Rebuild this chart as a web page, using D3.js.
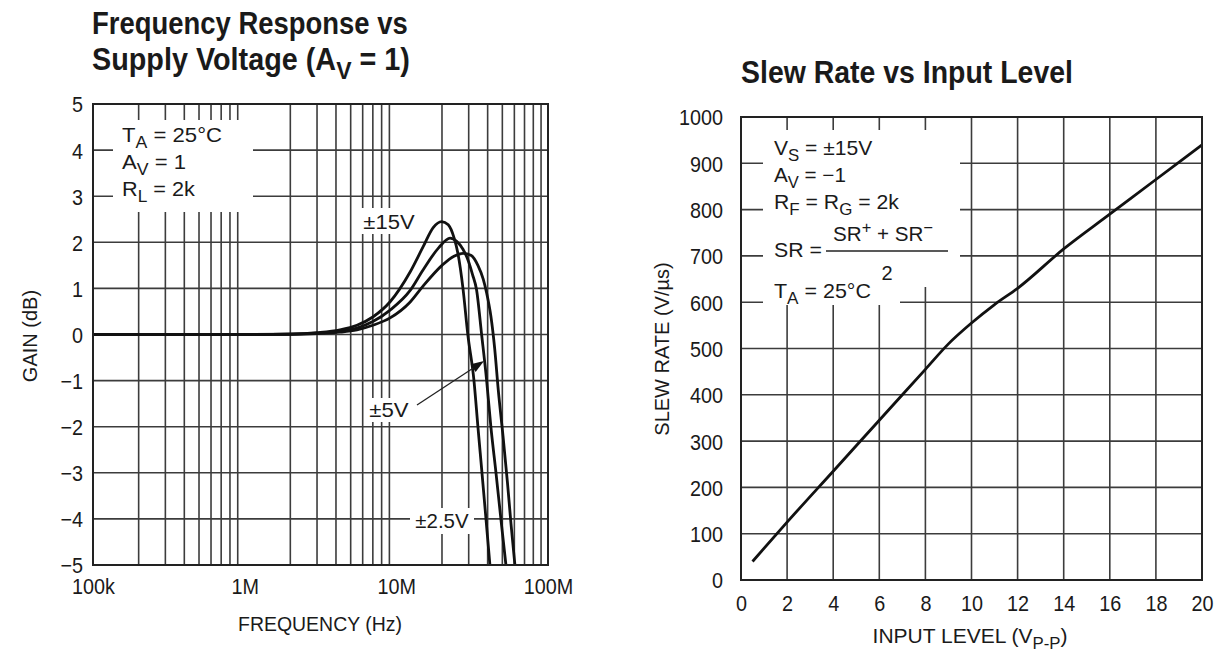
<!DOCTYPE html>
<html>
<head>
<meta charset="utf-8">
<script src="https://cdn.jsdelivr.net/npm/d3@7"></script>
<style>
  body { margin: 0; background: #fff; }
  svg { display: block; }
</style>
</head>
<body>
<svg id="chart" width="1219" height="652"></svg>
<script>
// ---------- Frequency response vs supply voltage (frequency in MHz, gain in dB) ----------
const gainTicks = [5, 4, 3, 2, 1, 0, -1, -2, -3, -4, -5];
const freqTickValues = [0.1, 1, 10, 100];
const freqTickLabels = ["100k", "1M", "10M", "100M"];
const supplyLabels = ["±15V", "±5V", "±2.5V"];

const resp15V = [[0.1,0],[1,0],[2,0.01],[3,0.04],[4.25,0.1],[5.5,0.2],[7,0.38],[9.1,0.71],[12.3,1.35],[15,1.9],[17.5,2.32],[19.9,2.45],[22,2.38],[24,2.1],[25.5,1.75],[27.5,1.0],[29.6,0],[32.5,-1],[34.5,-2],[36.7,-3],[39,-4],[41.4,-5]];
const resp5V  = [[0.1,0],[1,0],[2,0.01],[3,0.03],[4.25,0.07],[5.5,0.14],[7,0.28],[9.1,0.53],[12.3,0.95],[15,1.4],[19,1.88],[22.6,2.09],[25,2.02],[27.5,1.85],[29.8,1.6],[31.8,1.3],[33.8,0.97],[36.5,0],[39.4,-1],[42,-2],[45.4,-3],[48.9,-4],[52.8,-5]];
const resp2V5 = [[0.1,0],[1,0],[2,0.005],[3,0.02],[4.25,0.05],[5.5,0.1],[7,0.2],[9.1,0.36],[12.3,0.7],[15,1.05],[20,1.5],[24,1.7],[27.6,1.76],[31,1.72],[34.5,1.5],[37.4,1.2],[39.4,0.9],[42,0.4],[44.5,-0.3],[47,-1.2],[50.5,-2.2],[54,-3.2],[57,-4.1],[60.5,-5]];

// ---------- Slew rate vs input level (Vp-p, V/us) ----------
const levelTicks = [0, 2, 4, 6, 8, 10, 12, 14, 16, 18, 20];
const slewTicks = [0, 100, 200, 300, 400, 500, 600, 700, 800, 900, 1000];
const inputLevel = [0.5, 2, 4, 6, 8, 9, 10, 11, 12, 14, 16, 18, 20];
const slewRate   = [40, 125, 235, 345, 455, 510, 555, 595, 630, 715, 790, 865, 940];

const FONT = '"Liberation Sans", Arial, Helvetica, sans-serif';
const GRID = "#3c3c3c";
const INK = "#1a1a1a";
const svg = d3.select("#chart").attr("font-family", FONT).attr("fill", INK);

// Narrows text horizontally about its own x position
function squeeze(sel, s) {
  sel.each(function () {
    const x = +this.getAttribute("x") || 0;
    d3.select(this).attr("transform", `translate(${x},0) scale(${s},1) translate(${-x},0)`);
  });
}
// Scales a text horizontally so that it spans w pixels
function fit(t, w) {
  const bw = t.node().getBBox().width;
  if (bw > 0) squeeze(t, w / bw);
  return t;
}

// Writes a line of text made of plain, subscript and superscript runs
function richText(g, x, y, parts, size, anchor) {
  const t = g.append("text").attr("x", x).attr("y", y)
    .attr("font-size", size).attr("text-anchor", anchor || "start");
  let cur = 0;
  parts.forEach(p => {
    const target = p.sub ? size * 0.3 : p.sup ? -size * 0.38 : 0;
    const s = t.append("tspan").attr("dy", target - cur).text(p.t);
    if (p.sub || p.sup) s.attr("font-size", size * 0.8);
    cur = target;
  });
  return t;
}

// ================= Left chart =================
const L = { x0: 93, x1: 548, y0: 104, y1: 565 };
const fx = d3.scaleLog().domain([0.1, 100]).range([L.x0, L.x1]);
const gy = d3.scaleLinear().domain([-5, 5]).range([L.y1, L.y0]);
const left = svg.append("g");

const logGrid = [];
[0.1, 1, 10].forEach(d => { for (let k = 2; k <= 9; k++) logGrid.push(d * k); });

left.append("g").selectAll("line").data(logGrid).join("line")
  .attr("x1", d => fx(d)).attr("x2", d => fx(d))
  .attr("y1", L.y0).attr("y2", L.y1)
  .attr("stroke", GRID).attr("stroke-width", 1.6);
left.append("g").selectAll("line").data(gainTicks.slice(1, -1)).join("line")
  .attr("x1", L.x0).attr("x2", L.x1)
  .attr("y1", d => gy(d)).attr("y2", d => gy(d))
  .attr("stroke", GRID).attr("stroke-width", 1.6);

// clear areas behind in-plot notes
const leftClears = [[113, 120, 140, 92], [357, 208, 64, 26], [364, 398, 52, 24], [410, 508, 64, 26]];
left.append("g").selectAll("rect").data(leftClears).join("rect")
  .attr("x", d => d[0]).attr("y", d => d[1]).attr("width", d => d[2]).attr("height", d => d[3])
  .attr("fill", "#fff");

const respLine = d3.line().x(d => fx(d[0])).y(d => gy(d[1])).curve(d3.curveMonotoneX);
left.append("g").selectAll("path").data([resp15V, resp5V, resp2V5]).join("path")
  .attr("d", respLine).attr("fill", "none").attr("stroke", "#111")
  .attr("stroke-width", 2.8).attr("stroke-linejoin", "round");

left.append("rect").attr("x", L.x0).attr("y", L.y0)
  .attr("width", L.x1 - L.x0).attr("height", L.y1 - L.y0)
  .attr("fill", "none").attr("stroke", "#222").attr("stroke-width", 2);

// axis labels from d3 axes, with the domain path removed
const yAxisL = left.append("g").attr("transform", `translate(${L.x0},0)`)
  .call(d3.axisLeft(gy).tickValues(gainTicks).tickSize(0).tickPadding(10)
    .tickFormat(d => d < 0 ? "\u2212" + Math.abs(d) : d));
const xAxisL = left.append("g").attr("transform", `translate(0,${L.y1})`)
  .call(d3.axisBottom(fx).tickValues(freqTickValues).tickSize(0).tickPadding(9)
    .tickFormat((d, i) => freqTickLabels[i]));
[yAxisL, xAxisL].forEach(a => {
  a.select(".domain").remove();
  a.selectAll("text").attr("font-family", FONT).attr("font-size", 22).attr("fill", INK);
  squeeze(a.selectAll("text"), 0.9);
});
yAxisL.selectAll("text").attr("dy", "0.36em");
xAxisL.selectAll("text").attr("dy", "0.9em");

fit(left.append("text").attr("x", 320).attr("y", 631).attr("text-anchor", "middle")
  .attr("font-size", 20).text("FREQUENCY (Hz)"), 164);
left.append("text").attr("transform", "translate(37,336) rotate(-90)")
  .attr("text-anchor", "middle").attr("font-size", 20).text("GAIN (dB)");

// title
fit(left.append("text").attr("x", 92).attr("y", 34).attr("font-size", 31)
  .attr("font-weight", "bold").text("Frequency Response vs"), 316);
fit(richText(left, 92, 70, [{ t: "Supply Voltage (A" }, { t: "V", sub: true }, { t: " = 1)" }], 31)
  .attr("font-weight", "bold"), 318);

// conditions
const leftNotes = [
  [{ t: "T" }, { t: "A", sub: true }, { t: " = 25°C" }],
  [{ t: "A" }, { t: "V", sub: true }, { t: " = 1" }],
  [{ t: "R" }, { t: "L", sub: true }, { t: " = 2k" }]
];
const leftNoteWidths = [100, 64, 74];
leftNotes.forEach((p, i) => fit(richText(left, 122, 142 + i * 27, p, 20), leftNoteWidths[i]));

// curve labels
const curveLabelPos = [[389, 229, 52], [389, 417, 40], [442, 528, 54]];
curveLabelPos.forEach((p, i) =>
  fit(left.append("text").attr("x", p[0]).attr("y", p[1]).attr("text-anchor", "middle")
    .attr("font-size", 20).text(supplyLabels[i]), p[2]));

// leader arrow toward the ±5V curve
const ax0 = 417, ay0 = 405, ax1 = 484, ay1 = 361;
const ang = Math.atan2(ay1 - ay0, ax1 - ax0);
left.append("line").attr("x1", ax0).attr("y1", ay0)
  .attr("x2", ax1 - 10 * Math.cos(ang)).attr("y2", ay1 - 10 * Math.sin(ang))
  .attr("stroke", "#222").attr("stroke-width", 1.3);
const hl = 13, hw = 4.5;
const bx = ax1 - hl * Math.cos(ang), by = ay1 - hl * Math.sin(ang);
left.append("path")
  .attr("d", `M${ax1},${ay1}L${bx - hw * Math.sin(ang)},${by + hw * Math.cos(ang)}L${bx + hw * Math.sin(ang)},${by - hw * Math.cos(ang)}Z`)
  .attr("fill", "#111");

// ================= Right chart =================
const R = { x0: 741, x1: 1202, y0: 117, y1: 580 };
const lx = d3.scaleLinear().domain([0, 20]).range([R.x0, R.x1]);
const sy = d3.scaleLinear().domain([0, 1000]).range([R.y1, R.y0]);
const right = svg.append("g");

right.append("g").selectAll("line").data(levelTicks.slice(1, -1)).join("line")
  .attr("x1", d => lx(d)).attr("x2", d => lx(d)).attr("y1", R.y0).attr("y2", R.y1)
  .attr("stroke", GRID).attr("stroke-width", 1.6);
right.append("g").selectAll("line").data(slewTicks.slice(1, -1)).join("line")
  .attr("x1", R.x0).attr("x2", R.x1).attr("y1", d => sy(d)).attr("y2", d => sy(d))
  .attr("stroke", GRID).attr("stroke-width", 1.6);

const rightClears = [[763, 130, 197, 132], [763, 262, 137, 43], [900, 262, 48, 25]];
right.append("g").selectAll("rect").data(rightClears).join("rect")
  .attr("x", d => d[0]).attr("y", d => d[1]).attr("width", d => d[2]).attr("height", d => d[3])
  .attr("fill", "#fff");

const slewLine = d3.line().x((d, i) => lx(inputLevel[i])).y(d => sy(d)).curve(d3.curveMonotoneX);
right.append("path").datum(slewRate).attr("d", slewLine)
  .attr("fill", "none").attr("stroke", "#111").attr("stroke-width", 2.8).attr("stroke-linejoin", "round");

right.append("rect").attr("x", R.x0).attr("y", R.y0)
  .attr("width", R.x1 - R.x0).attr("height", R.y1 - R.y0)
  .attr("fill", "none").attr("stroke", "#222").attr("stroke-width", 2);

const yAxisR = right.append("g").attr("transform", `translate(${R.x0},0)`)
  .call(d3.axisLeft(sy).tickValues(slewTicks).tickSize(0).tickPadding(18).tickFormat(d3.format("d")));
const xAxisR = right.append("g").attr("transform", `translate(0,${R.y1})`)
  .call(d3.axisBottom(lx).tickValues(levelTicks).tickSize(0).tickPadding(16));
[yAxisR, xAxisR].forEach(a => {
  a.select(".domain").remove();
  a.selectAll("text").attr("font-family", FONT).attr("font-size", 22).attr("fill", INK);
  squeeze(a.selectAll("text"), 0.9);
});
yAxisR.selectAll("text").attr("dy", "0.36em");
xAxisR.selectAll("text").attr("dy", "0.7em");

fit(richText(right, 970, 643, [{ t: "INPUT LEVEL (V" }, { t: "P-P", sub: true }, { t: ")" }], 20, "middle"), 195);
right.append("text").attr("transform", "translate(669,349) rotate(-90)")
  .attr("text-anchor", "middle").attr("font-size", 20).text("SLEW RATE (V/µs)");

fit(right.append("text").attr("x", 741).attr("y", 83).attr("font-size", 31)
  .attr("font-weight", "bold").text("Slew Rate vs Input Level"), 332);

// conditions
const rightNotes = [
  [{ t: "V" }, { t: "S", sub: true }, { t: " = ±15V" }],
  [{ t: "A" }, { t: "V", sub: true }, { t: " = \u22121" }],
  [{ t: "R" }, { t: "F", sub: true }, { t: " = R" }, { t: "G", sub: true }, { t: " = 2k" }]
];
const rightNoteWidths = [99, 72, 126];
rightNotes.forEach((p, i) => fit(richText(right, 774, 155 + i * 27, p, 20), rightNoteWidths[i]));
fit(richText(right, 774, 257, [{ t: "SR =" }], 20), 48);
fit(richText(right, 883, 241, [{ t: "SR" }, { t: "+", sup: true }, { t: " + SR" }, { t: "\u2212", sup: true }], 20, "middle"), 100);
right.append("line").attr("x1", 826).attr("x2", 948).attr("y1", 251).attr("y2", 251)
  .attr("stroke", "#222").attr("stroke-width", 1.3);
right.append("text").attr("x", 887).attr("y", 280).attr("text-anchor", "middle").attr("font-size", 20).text("2");
fit(richText(right, 774, 298, [{ t: "T" }, { t: "A", sub: true }, { t: " = 25°C" }], 20), 97);
</script>
</body>
</html>
